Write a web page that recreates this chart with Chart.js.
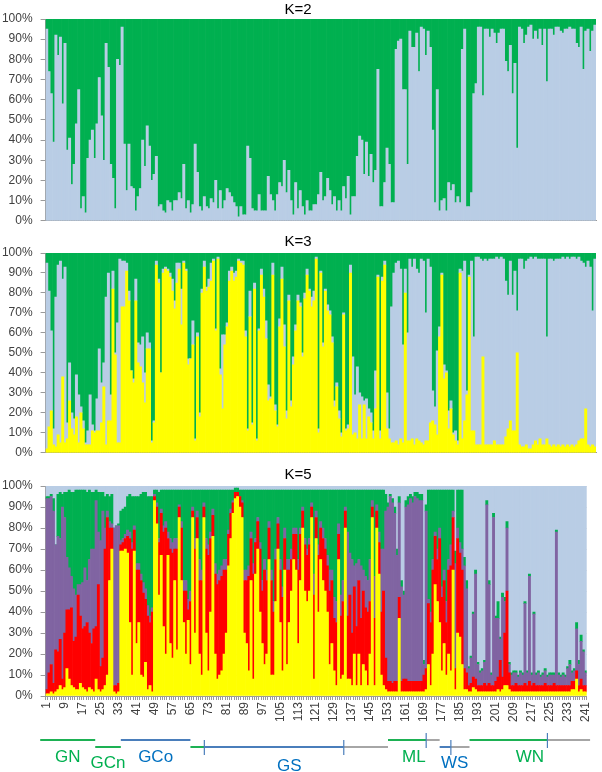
<!DOCTYPE html>
<html>
<head>
<meta charset="utf-8">
<script src="https://cdn.jsdelivr.net/npm/chart.js@4.4.1/dist/chart.umd.min.js"></script>
<style>
  body { margin: 0; background: #fff; }
  #wrap { position: relative; width: 602px; height: 772px; }
  canvas { position: absolute; left: 0; }
</style>
</head>
<body>
<div id="wrap">
  <canvas id="k2" width="602" height="236" style="top:0"></canvas>
  <canvas id="k3" width="602" height="238" style="top:230px"></canvas>
  <canvas id="k5" width="602" height="312" style="top:460px"></canvas>
</div>
<script>
// individuals 1..241
const samples = Array.from({ length: 241 }, (_, i) => String(i + 1));
const tickLabels = ['1','9','17','25','33','41','49','57','65','73','81','89','97','105','113',
    '121','129','137','145','153','161','169','177','185','193','201','209','217','225','233','241'];

// K=2 membership (%), light blue cluster; green is the rest
const k2Blue = [95,74,63,39,92,82,91,58,88,35,
    41,18,28,48,65,6,12,4,31,40,
    45,31,48,71,52,30,88,76,28,21,
    6,80,77,96,38,15,38,17,16,5,
    12,16,40,27,47,37,20,23,32,7,
    8,5,4,10,9,5,10,10,14,11,
    28,6,10,4,8,38,24,7,5,12,
    7,6,11,9,20,6,15,6,10,16,
    14,12,9,7,2,7,3,3,37,31,
    6,5,5,13,5,5,5,22,13,10,
    5,13,19,17,30,14,25,10,3,19,
    6,15,7,3,10,5,5,8,8,13,
    24,10,12,21,15,8,12,5,10,5,
    17,11,22,3,12,12,32,42,40,23,
    39,22,33,19,25,75,7,7,19,36,
    28,9,9,85,89,90,65,65,28,94,
    86,86,93,74,96,95,82,94,86,45,
    9,65,5,10,11,5,19,15,18,9,
    12,9,85,95,7,7,14,63,68,96,
    96,62,95,95,91,95,93,88,93,95,
    95,79,74,87,63,78,36,96,95,88,
    92,96,97,90,94,90,95,87,95,69,
    95,95,92,96,96,94,93,95,95,96,
    95,95,88,86,96,75,94,95,84,94,
    97];

// K=3 membership (%): yellow, light blue; green is the rest
const k3Yellow = [2,13,21,4,3,9,5,38,5,7,
    26,12,9,18,5,20,12,4,4,4,
    11,10,11,11,15,33,4,16,16,82,
    49,5,5,73,73,91,76,41,35,76,
    45,43,35,25,52,52,5,15,94,85,
    40,90,92,91,88,81,72,85,92,64,
    95,91,44,47,54,6,58,18,80,93,
    81,83,86,96,61,97,39,22,54,63,
    86,91,86,88,96,95,94,58,11,68,
    14,82,6,61,89,78,57,26,27,89,
    21,13,63,87,53,17,76,23,44,61,
    76,73,48,77,89,81,73,76,97,10,
    90,53,81,71,69,55,23,33,17,8,
    69,11,12,90,9,10,7,24,7,24,
    7,18,15,7,22,88,7,86,94,12,
    7,5,5,6,4,7,5,80,6,6,
    7,4,7,6,5,4,6,6,15,16,
    14,9,58,89,37,40,12,22,9,6,
    4,90,7,16,29,88,11,11,4,4,
    4,48,4,4,4,4,6,4,4,4,
    4,8,12,16,11,11,50,4,3,3,
    4,2,2,4,6,4,7,4,4,7,
    4,3,4,3,4,3,4,3,4,3,
    4,3,4,6,7,7,22,4,3,4,3];
const k3Blue = [93,68,40,8,75,85,91,49,88,8,
    19,8,8,21,24,3,4,1,7,25,
    3,1,16,41,20,12,74,74,13,9,
    1,60,92,23,23,4,5,0,2,11,
    10,11,23,15,8,3,1,1,2,2,
    0,2,1,1,2,6,4,10,3,18,
    1,1,3,0,12,1,2,2,2,3,
    2,4,9,1,1,1,3,37,5,2,
    5,2,4,3,1,1,2,3,1,13,
    1,3,1,1,3,4,9,8,1,6,
    3,1,4,6,11,4,3,3,4,3,
    3,2,2,3,3,1,5,5,1,2,
    1,2,1,3,2,3,3,2,4,2,
    1,1,2,4,39,19,36,6,21,2,
    20,4,5,4,19,1,4,2,2,18,
    5,68,85,89,92,85,49,12,54,91,
    86,93,85,84,92,92,64,91,78,15,
    9,42,5,1,7,1,9,4,1,5,
    2,2,84,80,2,1,85,47,94,94,
    93,48,93,92,93,93,91,94,93,94,
    93,78,67,80,68,80,21,93,94,89,
    92,95,96,93,92,93,90,93,93,51,
    93,94,92,94,93,94,94,94,94,94,
    94,95,93,92,89,88,71,92,90,67,94];

// K=5 membership (%): yellow, red, purple, green; light blue is the rest
const k5Yellow = [1,1,2,1,2,3,5,3,4,13,
    8,5,4,3,3,6,4,3,2,4,
    3,2,8,3,2,3,5,10,55,70,
    2,1,2,69,69,70,68,35,10,69,
    25,35,10,9,16,3,5,2,93,82,
    48,67,33,20,67,25,18,55,22,85,
    55,35,20,36,15,85,30,75,20,10,
    85,30,12,40,76,20,8,10,12,20,
    30,62,75,87,94,95,90,85,30,25,
    12,55,8,58,70,40,25,15,20,65,
    10,10,45,70,35,12,60,15,35,50,
    65,60,25,55,80,50,45,50,85,8,
    75,40,65,55,50,40,15,25,12,5,
    65,8,10,80,8,8,5,20,5,20,
    5,15,12,5,20,85,5,80,58,10,
    5,3,2,2,2,2,2,37,2,2,
    2,2,2,2,2,2,2,2,2,3,
    15,5,20,53,45,35,12,25,10,20,
    12,60,3,30,28,15,3,3,2,2,
    4,3,2,2,2,2,2,2,2,2,
    2,3,2,3,5,5,3,2,2,2,
    2,2,2,2,2,2,2,2,2,2,
    2,2,2,2,2,2,2,2,2,2,
    2,2,2,2,3,3,8,2,3,2,2];
const k5Red = [2,10,13,5,20,18,22,5,26,28,
    33,37,22,25,45,32,28,30,33,26,
    22,30,25,50,12,15,65,75,25,10,
    3,4,4,3,4,5,8,40,60,10,
    35,25,45,40,30,35,30,38,2,8,
    25,20,45,60,8,45,50,15,48,5,
    25,15,30,5,30,3,40,10,35,45,
    5,40,55,35,10,38,45,45,45,40,
    30,15,12,5,3,2,5,7,25,30,
    45,20,50,15,13,30,25,45,35,15,
    45,30,20,12,25,35,15,45,25,15,
    12,17,35,22,8,22,22,22,5,40,
    10,27,15,20,20,22,35,30,25,30,
    12,30,35,8,30,40,25,32,28,35,
    32,35,30,35,25,5,32,8,15,30,
    45,15,5,5,4,5,5,10,5,6,
    6,5,5,5,5,5,5,5,8,10,
    29,30,40,23,20,40,35,30,25,40,
    50,25,10,45,40,45,10,8,3,4,
    5,5,3,3,3,4,3,4,3,3,
    5,6,15,6,25,45,8,3,3,4,
    3,3,3,4,3,5,3,4,3,3,
    3,3,4,3,3,3,4,3,3,3,
    3,3,3,3,4,4,4,3,5,3,3];
const k5Purple = [91,83,80,82,50,55,48,82,55,25,
    20,15,25,20,5,15,22,28,20,35,
    45,38,60,25,60,70,10,3,3,2,
    75,76,75,2,2,2,3,3,3,2,
    3,3,3,5,5,5,3,2,1,2,
    2,2,3,3,3,5,5,5,5,1,
    3,5,5,5,5,2,5,3,10,5,
    2,5,5,3,3,5,5,5,5,5,
    5,2,2,1,0,0,0,1,5,5,
    5,3,5,2,2,3,5,5,5,3,
    5,5,5,3,5,5,5,5,5,5,
    3,3,5,3,2,3,3,3,2,10,
    3,5,3,5,5,5,10,5,10,10,
    5,10,10,2,40,20,35,10,30,10,
    25,10,15,15,20,3,20,3,5,30,
    20,70,83,88,86,80,60,45,45,40,
    82,84,87,85,88,87,86,86,5,75,
    2,5,5,2,5,5,5,5,10,5,
    10,3,50,5,5,10,49,40,8,12,
    30,50,10,6,7,10,86,47,5,80,
    30,28,10,38,15,30,4,5,6,5,
    4,6,5,38,6,50,5,33,5,6,
    4,5,6,4,5,5,4,73,5,4,
    5,4,8,10,4,5,20,10,18,16,6];
const k5Green = [1,1,1,6,0,20,22,6,12,31,
    37,40,46,50,45,45,44,37,42,33,
    27,27,5,19,23,9,15,8,12,14,
    0,0,1,14,14,13,16,18,22,14,
    32,32,38,43,46,52,57,53,2,6,
    22,9,17,15,20,23,25,23,23,7,
    15,43,43,52,48,8,23,10,33,38,
    6,23,26,20,9,35,40,38,36,33,
    33,19,9,5,2,2,3,5,38,38,
    36,20,35,23,13,25,43,33,38,15,
    38,53,28,13,33,46,18,33,33,28,
    18,18,33,18,8,23,28,23,6,40,
    10,26,15,18,23,31,38,38,51,53,
    16,50,43,8,20,30,33,36,35,33,
    36,38,41,43,33,5,41,7,20,28,
    28,8,2,1,2,3,3,3,3,2,
    3,4,2,3,2,3,3,3,2,3,
    52,58,33,20,28,18,46,38,53,33,
    26,10,6,18,25,28,4,4,1,1,
    1,2,1,1,1,1,2,2,1,2,
    1,8,1,2,2,3,1,1,1,1,
    1,1,1,1,1,1,1,1,1,1,
    1,1,1,1,1,1,1,1,1,1,
    1,1,1,2,1,1,3,2,3,1,1];

// the last cluster of each K is what is left up to 100%
const k2Green = k2Blue.map(v => 100 - v);
const k3Green = k3Yellow.map((v, i) => 100 - v - k3Blue[i]);
const k5Blue = k5Yellow.map((v, i) => 100 - v - k5Red[i] - k5Purple[i] - k5Green[i]);

// sample groups, in individual numbers (first..last)
const groupNames = ['GN', 'GCn', 'GCo', 'GS', 'ML', 'WS', 'WN'];
const groupStart = [-1.9, 22.6, 34, 65, 153, 176, 189.3];
const groupEnd = [22.6, 34, 65, 153, 176, 189.3, 243];

const FONT = "'Liberation Sans', Arial, sans-serif";
const GREEN = '#00B050', LIGHTBLUE = '#B9CDE5', YELLOW = '#FFFF00', RED = '#FF0000', PURPLE = '#8064A2';

function series(data, color) {
    return {
        data: data,
        backgroundColor: color,
        borderWidth: 0,
        barPercentage: 1,
        categoryPercentage: 1
    };
}

function stackOptions(title, titlePad, bottomPad, showX) {
    return {
        responsive: false,
        animation: false,
        layout: { padding: { left: 0, right: 6, top: 0, bottom: bottomPad } },
        plugins: {
            legend: { display: false },
            tooltip: { enabled: false },
            title: {
                display: true,
                text: title,
                color: '#000',
                font: { family: FONT, size: 15, weight: 'normal' },
                padding: titlePad
            }
        },
        scales: {
            x: {
                stacked: true,
                grid: { display: showX, drawOnChartArea: false, tickLength: 4, color: '#9A9A9A' },
                border: { color: '#9A9A9A' },
                ticks: showX ? {
                    autoSkip: false,
                    maxRotation: 90,
                    minRotation: 90,
                    padding: 2,
                    color: '#404040',
                    font: { family: FONT, size: 12 },
                    callback: function (value) {
                        const l = this.getLabelForValue(value);
                        return tickLabels.includes(l) ? l : '';
                    }
                } : { display: false },
                afterFit: s => { s.height = showX ? 40 : 8; }
            },
            y: {
                stacked: true,
                min: 0,
                max: 100,
                ticks: {
                    stepSize: 10,
                    color: '#404040',
                    padding: 8,
                    font: { family: FONT, size: 12 },
                    callback: v => v + '%'
                },
                grid: { color: '#D9D9D9', tickLength: 5, tickColor: '#9A9A9A' },
                border: { color: '#9A9A9A' },
                afterFit: s => { s.width = 45.6; }
            }
        }
    };
}

new Chart(document.getElementById('k2'), {
    type: 'bar',
    data: {
        labels: samples,
        datasets: [series(k2Blue, LIGHTBLUE), series(k2Green, GREEN)]
    },
    options: stackOptions('K=2', { top: 1, bottom: 0 }, 0, false)
});

new Chart(document.getElementById('k3'), {
    type: 'bar',
    data: {
        labels: samples,
        datasets: [series(k3Yellow, YELLOW), series(k3Blue, LIGHTBLUE), series(k3Green, GREEN)]
    },
    options: stackOptions('K=3', { top: 3, bottom: 2 }, 0, false)
});

// group bars under the last panel
const groupPlugin = {
    id: 'groups',
    afterDraw(chart) {
        const ctx = chart.ctx;
        const xs = chart.scales.x;
        const px = n => xs.getPixelForValue(n - 1);
        const rowY = [280, 287];
        const BLUE_LINE = '#4A7EBB', GREEN_LINE = '#1DB154', GRAY = '#A6A6A6';
        const style = [
            { row: 0, text: '#00B050', ty: 297 },
            { row: 1, text: '#00B050', ty: 303 },
            { row: 0, text: '#0070C0', ty: 297 },
            { row: 1, text: '#0070C0', ty: 306 },
            { row: 0, text: '#00B050', ty: 297 },
            { row: 1, text: '#0070C0', ty: 303 },
            { row: 0, text: '#00B050', ty: 297 }
        ];
        // coloured / grey pieces of each group line: [from, to, colour]
        const pieces = [
            [[groupStart[0], groupEnd[0], GREEN_LINE]],
            [[groupStart[1], groupEnd[1], GREEN_LINE]],
            [[groupStart[2], groupEnd[2], BLUE_LINE]],
            [[65, 71.2, GREEN_LINE], [71.2, 133.3, BLUE_LINE], [133.3, 153, GRAY]],
            [[153, 170, GREEN_LINE], [170, 176, GRAY]],
            [[176, 181, BLUE_LINE], [181, 189.3, GRAY]],
            [[189.3, 224, GREEN_LINE], [224, 243, GRAY]]
        ];
        const marks = [[], [], [], [71.2, 133.3], [170], [181], [224]];
        ctx.save();
        groupNames.forEach((name, g) => {
            const y = rowY[style[g].row];
            ctx.lineWidth = 2;
            pieces[g].forEach(p => {
                ctx.strokeStyle = p[2];
                ctx.beginPath();
                ctx.moveTo(px(p[0]), y);
                ctx.lineTo(px(p[1]), y);
                ctx.stroke();
            });
            ctx.lineWidth = 1.2;
            ctx.strokeStyle = BLUE_LINE;
            marks[g].forEach(m => {
                ctx.beginPath();
                ctx.moveTo(px(m), y - 7);
                ctx.lineTo(px(m), y + 8);
                ctx.stroke();
            });
            ctx.fillStyle = style[g].text;
            ctx.font = '17px ' + FONT;
            ctx.textAlign = 'center';
            ctx.textBaseline = 'middle';
            ctx.fillText(name, px((groupStart[g] + groupEnd[g]) / 2), style[g].ty);
        });
        ctx.restore();
    }
};

new Chart(document.getElementById('k5'), {
    type: 'bar',
    data: {
        labels: samples,
        datasets: [
            series(k5Yellow, YELLOW),
            series(k5Red, RED),
            series(k5Purple, PURPLE),
            series(k5Green, GREEN),
            series(k5Blue, LIGHTBLUE)
        ]
    },
    options: stackOptions('K=5', { top: 6, bottom: 2 }, 36, true),
    plugins: [groupPlugin]
});
</script>
</body>
</html>
